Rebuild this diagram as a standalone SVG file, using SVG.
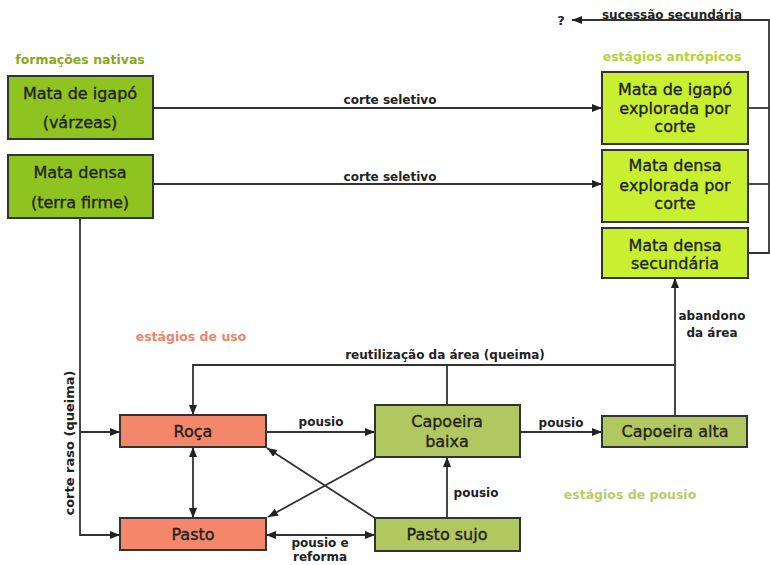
<svg xmlns="http://www.w3.org/2000/svg" width="770" height="565" viewBox="0 0 770 565">
<style>
.node rect{stroke:#333;stroke-width:2}
.native rect{fill:#8fc31f}
.antro rect{fill:#c8f030}
.uso rect{fill:#f4866a}
.pousio rect{fill:#b2c75f}
.nt{font-family:"DejaVu Sans",Verdana,sans-serif;font-size:16px;fill:#222;stroke:#222;stroke-width:0.35;text-anchor:middle}
.lb{font-family:"DejaVu Sans",Verdana,sans-serif;font-size:12px;font-weight:bold;fill:#222;text-anchor:middle}
.cat{font-family:"DejaVu Sans",Verdana,sans-serif;font-size:12.5px;font-weight:bold;text-anchor:middle}
#connectors path{fill:none;stroke:#333;stroke-width:1.8}
</style>
<defs>
<marker id="ah" markerUnits="userSpaceOnUse" markerWidth="10" markerHeight="8" refX="10" refY="4" orient="auto-start-reverse">
<path d="M0,0 L10,4 L0,8 z" fill="#222"/>
</marker>
</defs>
<rect width="770" height="565" fill="#fff"/>

<g id="labels">
<text class="cat" x="80" y="64" fill="#8aa61e">formações nativas</text>
<text class="cat" x="672" y="61" fill="#b5d432">estágios antrópicos</text>
<text class="cat" x="191" y="341" fill="#f08466">estágios de uso</text>
<text class="cat" x="630" y="499" fill="#b8cc6a">estágios de pousio</text>
<text class="lb" x="390" y="104">corte seletivo</text>
<text class="lb" x="390" y="181">corte seletivo</text>
<text class="lb" x="672" y="19">sucessão secundária</text>
<text class="lb" x="561" y="25" style="font-size:13px">?</text>
<text class="lb" x="445" y="359">reutilização da área (queima)</text>
<text class="lb" x="712" y="320">abandono</text>
<text class="lb" x="712" y="337">da área</text>
<text class="lb" x="321" y="426">pousio</text>
<text class="lb" x="561" y="427">pousio</text>
<text class="lb" x="476" y="497">pousio</text>
<text class="lb" x="320" y="547">pousio e</text>
<text class="lb" x="320" y="561">reforma</text>
<text class="lb" transform="translate(74,443) rotate(-90)" x="0" y="0" style="font-size:13px">corte raso (queima)</text>
</g>

<g id="connectors">
<path d="M153,108 H602" marker-end="url(#ah)"/>
<path d="M153,184 H602" marker-end="url(#ah)"/>
<path d="M748,108 H769"/>
<path d="M748,184 H769"/>
<path d="M748,253 H769 V20 H572" marker-end="url(#ah)"/>
<path d="M80,218 V535 H120" marker-end="url(#ah)"/>
<path d="M80,432 H120" marker-end="url(#ah)"/>
<path d="M675,416 V278" marker-end="url(#ah)"/>
<path d="M675,365 H193 V415" marker-end="url(#ah)"/>
<path d="M447,405 V365"/>
<path d="M266,432 H375" marker-end="url(#ah)"/>
<path d="M520,432 H602" marker-end="url(#ah)"/>
<path d="M193,447 V518" marker-start="url(#ah)" marker-end="url(#ah)"/>
<path d="M266,535 H375" marker-start="url(#ah)" marker-end="url(#ah)"/>
<path d="M447,518 V457" marker-end="url(#ah)"/>
<path d="M375,458 L268,517" marker-end="url(#ah)"/>
<path d="M375,518 L267,448" marker-end="url(#ah)"/>
</g>

<g id="n-igapo" class="node native">
<rect x="8" y="76" width="145" height="63"/>
<text class="nt" x="80" y="99">Mata de igapó</text>
<text class="nt" x="80" y="128">(várzeas)</text>
</g>
<g id="n-densa" class="node native">
<rect x="8" y="155" width="145" height="63"/>
<text class="nt" x="80" y="178">Mata densa</text>
<text class="nt" x="80" y="208">(terra firme)</text>
</g>
<g id="n-igapo-exp" class="node antro">
<rect x="602" y="72" width="146" height="72"/>
<text class="nt" x="675" y="95">Mata de igapó</text>
<text class="nt" x="675" y="114">explorada por</text>
<text class="nt" x="675" y="132">corte</text>
</g>
<g id="n-densa-exp" class="node antro">
<rect x="602" y="150" width="146" height="72"/>
<text class="nt" x="675" y="171">Mata densa</text>
<text class="nt" x="675" y="191">explorada por</text>
<text class="nt" x="675" y="209">corte</text>
</g>
<g id="n-densa-sec" class="node antro">
<rect x="602" y="228" width="146" height="50"/>
<text class="nt" x="675" y="251">Mata densa</text>
<text class="nt" x="675" y="269">secundária</text>
</g>
<g id="n-roca" class="node uso">
<rect x="120" y="415" width="146" height="32"/>
<text class="nt" x="193" y="437">Roça</text>
</g>
<g id="n-pasto" class="node uso">
<rect x="120" y="518" width="146" height="32"/>
<text class="nt" x="193" y="540">Pasto</text>
</g>
<g id="n-cap-baixa" class="node pousio">
<rect x="375" y="405" width="145" height="52"/>
<text class="nt" x="447" y="427">Capoeira</text>
<text class="nt" x="447" y="447">baixa</text>
</g>
<g id="n-pasto-sujo" class="node pousio">
<rect x="375" y="518" width="145" height="33"/>
<text class="nt" x="447" y="540">Pasto sujo</text>
</g>
<g id="n-cap-alta" class="node pousio">
<rect x="602" y="416" width="145" height="31"/>
<text class="nt" x="675" y="437">Capoeira alta</text>
</g>
</svg>
